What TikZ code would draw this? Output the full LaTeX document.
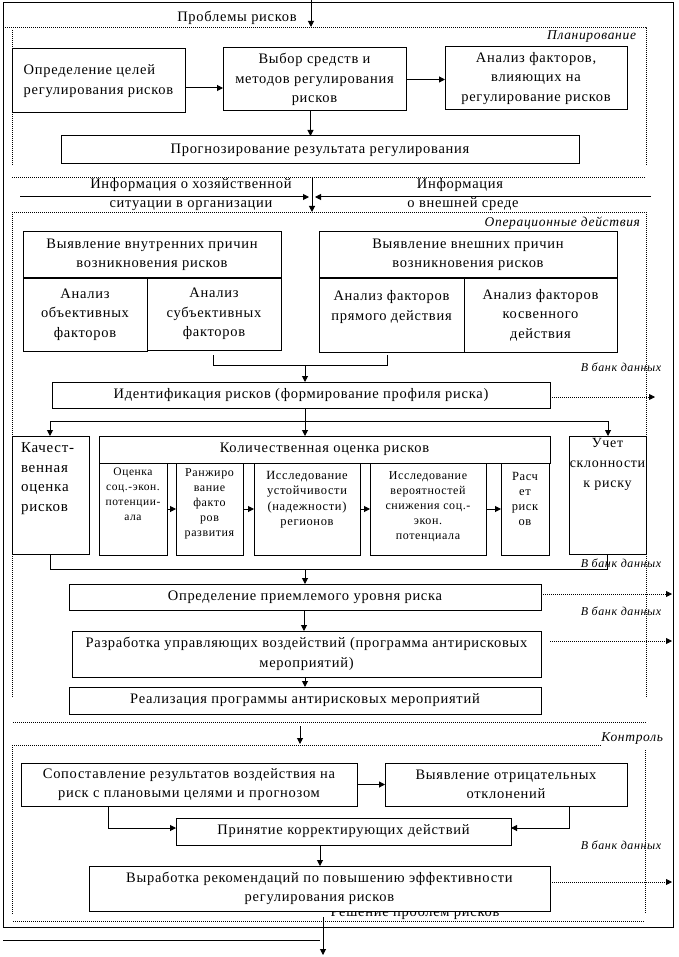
\documentclass[tikz,border=0pt]{standalone}
\usepackage{fontspec}
\setmainfont{Liberation Serif}[LetterSpace=5]
\usetikzlibrary{arrows.meta}
\begin{document}
\begin{tikzpicture}[x=1pt,y=-1pt,
  every node/.style={inner sep=0pt, outer sep=0pt},
  bx/.style={draw, line width=1pt, anchor=north west, align=center, font=\fontsize{14.5}{19.5}\selectfont},
  wbx/.style={bx, fill=white},
  txt/.style={align=center, font=\fontsize{14.5}{19.5}\selectfont},
  sm/.style={align=center, font=\fontsize{12}{15}\selectfont},
  lab/.style={font=\itshape\fontsize{13.5}{14}\selectfont},
  bank/.style={font=\itshape\fontsize{12}{13}\selectfont},
  ar/.style={line width=1pt, -{Triangle[length=6pt,width=6pt]}},
  ln/.style={line width=1pt},
  dl/.style={line width=0.8pt, dash pattern=on 1pt off 1pt},
  dar/.style={dl, -{Triangle[length=6pt,width=6pt]}},
]
\fill[white] (0,0) rectangle (678,957);
\useasboundingbox (0,0) rectangle (678,957);

% outer frame
\draw[ln] (3,3) rectangle (673,927);

% ---------- planning ----------
\coordinate (top) at (311,0);
\coordinate (plantop) at (311,27);
\node[txt, anchor=base] (probl) at (237,22) {Проблемы рисков};
\draw[ar] (top) -- (plantop);
\draw[dl] (3,27) -- (646,27) -- (646,165);
\draw[dl] (12,30) -- (12,165);
\node[lab, anchor=base east] (plan) at (636,40) {Планирование};

\node[bx, align=left, minimum width=173pt, minimum height=64pt] (b1) at (12,49) {Определение целей\\регулирования рисков};
\node[bx, minimum width=183pt, minimum height=63pt] (b2) at (223,48) {Выбор средств и\\методов регулирования\\рисков};
\node[bx, minimum width=182pt, minimum height=63pt] (b3) at (445,47) {Анализ факторов,\\влияющих на\\регулирование рисков};
\node[bx, minimum width=518pt, minimum height=28pt] (prog) at (61,136) {Прогнозирование результата регулирования};

\draw[ar] ([yshift=-7pt]b1.east) -- ([yshift=-7pt]b1.east -| b2.west);
\draw[ar] (b2.east) -- (b2.east -| b3.west);
\draw[ar] ([xshift=-4pt]b2.south) -- ([xshift=-4pt]b2.south |- prog.north);

% ---------- information ----------
\draw[dl] (12,177) -- (646,177);
\node[txt, anchor=base] (infL1) at (191,189) {Информация о хозяйственной};
\node[txt, anchor=base] (infL2) at (191,208) {ситуации в организации};
\node[txt, anchor=base] (infR1) at (460,189) {Информация};
\node[txt, anchor=base] (infR2) at (463,208) {о внешней среде};
\coordinate (infLs) at (20,197);
\coordinate (infLe) at (309,197);
\coordinate (infRs) at (651,197);
\coordinate (infRe) at (315,197);
\coordinate (infTop) at (312,177);
\coordinate (infBot) at (312,212);
\draw[ar] (infLs) -- (infLe);
\draw[ar] (infRs) -- (infRe);
\draw[ar] (infTop) -- (infBot);

% ---------- operational ----------
\draw[dl] (12,212) -- (646,212) -- (646,698);
\draw[dl] (12,212) -- (12,697);
\node[lab, anchor=base east] (oper) at (640,227) {Операционные действия};

\node[bx, minimum width=258pt, minimum height=46pt] (inth) at (23,232) {Выявление внутренних причин\\возникновения рисков};
\node[bx, minimum width=124pt, minimum height=73pt] (into) at (23,278) {Анализ\\объективных\\факторов};
\node[bx, minimum width=134pt, minimum height=72pt] (ints) at (147,278) {Анализ\\субъективных\\факторов};
\draw[line width=2.2pt] (inth.south west) -- (inth.south east);

\node[bx, minimum width=298pt, minimum height=46pt] (exth) at (319,232) {Выявление внешних причин\\возникновения рисков};
\node[bx, minimum width=145pt, minimum height=74pt] (extd) at (319,278) {Анализ факторов\\прямого действия\\\mbox{}};
\node[bx, minimum width=153pt, minimum height=74pt] (exti) at (464,278) {Анализ факторов\\косвенного\\действия};
\draw[line width=2.2pt] (exth.south west) -- (exth.south east);

\coordinate (brA) at (213,355);
\coordinate (brB) at (387,355);
\coordinate (br1) at (305,365);
\draw[ln] (brA) -- (brA |- br1) -- (brB |- br1) -- (brB);

\node[bx, minimum width=498pt, minimum height=26pt] (ident) at (52,382) {Идентификация рисков (формирование профиля риска)};
\draw[ar] (br1) -- (br1 |- ident.north);
\node[bank, anchor=base] (bank1) at (621,371) {В банк данных};
\coordinate (bankR1) at (655,0);
\draw[dar] ([yshift=-2pt]ident.east) -- ([yshift=-2pt]ident.east -| bankR1);

\coordinate (j1) at (305,421);
\coordinate (jL) at (50,421);
\coordinate (jR) at (608,421);
\draw[ln] (j1 |- ident.south) -- (j1);
\draw[ln] (jL) -- (jR);

\node[bx, minimum width=77pt, minimum height=118pt] (qual) at (12,436) {};
\node[txt, font=\fontsize{15}{19.5}\selectfont, anchor=north west, align=left] (qualt) at (21,443) {Качест-\\венная\\оценка\\рисков};

\node[bx, minimum width=451pt, minimum height=27pt] (quant) at (99,436) {Количественная оценка рисков};
\node[bx, minimum width=68pt, minimum height=92pt] (q1) at (99,463) {};
\node[bx, minimum width=67pt, minimum height=92pt] (q2) at (176,463) {};
\node[bx, minimum width=106pt, minimum height=92pt] (q3) at (254,463) {};
\node[bx, minimum width=116pt, minimum height=92pt] (q4) at (370,463) {};
\node[bx, minimum width=48pt, minimum height=92pt] (q5) at (501,463) {};
\node[sm, font=\fontsize{11.5}{15}\selectfont, anchor=north] (q1t) at ([yshift=-5pt]q1.north) {Оценка\\соц.-экон.\\потенции-\\ала};
\node[sm, anchor=north] (q2t) at ([yshift=-6pt]q2.north) {Ранжиро\\вание\\факто\\ров\\развития};
\node[sm, font=\fontsize{12.5}{15.5}\selectfont, anchor=north] (q3t) at ([yshift=-8pt]q3.north) {Исследование\\устойчивости\\(надежности)\\регионов};
\node[sm, anchor=north] (q4t) at ([yshift=-9pt]q4.north) {Исследование\\вероятностей\\снижения соц.-\\экон.\\потенциала};
\node[sm, font=\fontsize{12.5}{15}\selectfont, anchor=north] (q5t) at ([yshift=-9pt]q5.north) {Расч\\ет\\риск\\ов};
\draw[ar] (q1.east) -- (q2.west);
\draw[ar] (q2.east) -- (q3.west);
\draw[ar] (q3.east) -- (q4.west);
\draw[ar] (q4.east) -- (q5.west);

\node[bx, minimum width=77pt, minimum height=118pt] (uchet) at (569,436) {};
\node[txt, font=\fontsize{14}{20}\selectfont, anchor=north] (ucht) at ([yshift=-2pt]uchet.north) {Учет\\склонности\\к риску};

\draw[ar] (jL) -- (jL |- qual.north);
\draw[ar] (j1) -- (j1 |- quant.north);
\draw[ar] (jR) -- (jR |- uchet.north);

\coordinate (k1) at (305,569);
\coordinate (kL) at (50,569);
\coordinate (kR) at (607,569);
\draw[ln] (kL |- qual.south) -- (kL) -- (kR) -- (kR |- uchet.south);
\node[bank, anchor=base] (bank2) at (621,567) {В банк данных};

\node[bx, minimum width=472pt, minimum height=26pt] (accept) at (69,584) {Определение приемлемого уровня риска};
\draw[ar] (k1) -- (k1 |- accept.north);
\coordinate (bankR2) at (672,0);
\draw[dar] ([yshift=3pt]accept.east) -- ([yshift=3pt]accept.east -| bankR2);
\node[bank, anchor=base] (bank3) at (621,615) {В банк данных};

\node[bx, minimum width=469pt, minimum height=46pt] (razr) at (72,631) {Разработка управляющих воздействий (программа антирисковых\\мероприятий)};
\draw[ar] ([xshift=-1pt]accept.south) -- ([xshift=-1pt]accept.south |- razr.north);
\draw[dar] ([xshift=9pt,yshift=13pt]razr.east) -- ([yshift=13pt]razr.east -| bankR2);

\node[bx, minimum width=472pt, minimum height=27pt] (real) at (69,687) {Реализация программы антирисковых мероприятий};
\draw[ar] ([xshift=-1.5pt]razr.south) -- ([xshift=-1.5pt]razr.south |- real.north);

% ---------- control ----------
\draw[dl] (13,722) -- (646,722);
\coordinate (ctTop) at (300,726);
\coordinate (ctBot) at (300,744);
\draw[ar] (ctTop) -- (ctBot);
\node[lab, anchor=base east] (kontr) at (663,741) {Контроль};
\draw[dl] (12,745) -- (601,745);
\draw[dl] (12,745) -- (12,914);
\draw[dl] (645,750) -- (645,914);
\draw[dl] (13,921) -- (645,921);

\node[bx, minimum width=336pt, minimum height=43pt] (comp) at (21,763) {Сопоставление результатов воздействия на\\риск с плановыми целями и прогнозом};
\node[bx, minimum width=242pt, minimum height=43pt] (neg) at (385,763) {Выявление отрицательных\\отклонений};
\draw[ar] (comp.east) -- (neg.west);

\node[bx, minimum width=335pt, minimum height=27pt] (corr) at (176,818) {Принятие корректирующих действий};
\draw[ar] ([xshift=-81pt]comp.south) |- ([yshift=3.5pt]corr.west);
\draw[ar] ([xshift=63pt]neg.south) |- ([yshift=3.5pt]corr.east);
\node[bank, anchor=base] (bank4) at (621,849) {В банк данных};

\node[txt, anchor=base] (resh) at (415,916) {Решение проблем рисков};
\node[wbx, minimum width=461pt, minimum height=45pt] (rec) at (89,866) {Выработка рекомендаций по повышению эффективности\\регулирования рисков};
\draw[ar] ([xshift=-23.5pt]corr.south) -- ([xshift=-23.5pt]corr.south |- rec.north);
\draw[dar] ([yshift=6.5pt]rec.east) -- ([yshift=6.5pt]rec.east -| bankR2);

% bottom
\coordinate (botL) at (3,940);
\coordinate (botR) at (320,940);
\draw[ln] (botL) -- (botR);
\coordinate (outTop) at (323,917);
\coordinate (outBot) at (323,955);
\draw[ar] (outTop) -- (outBot);
\end{tikzpicture}
\end{document}
